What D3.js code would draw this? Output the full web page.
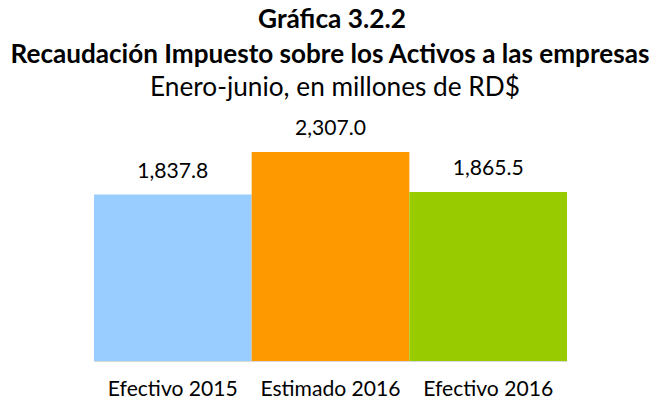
<!DOCTYPE html>
<html>
<head>
<meta charset="utf-8">
<script src="https://cdn.jsdelivr.net/npm/d3@7"></script>
<style>
  body { margin: 0; background: #fff; }
  text { font-family: Lato, "Open Sans", sans-serif; fill: #000; }
</style>
</head>
<body>
<script>
// chart data
const categories = ["Efectivo 2015", "Estimado 2016", "Efectivo 2016"];
const values = [1837.8, 2307.0, 1865.5];
const colors = ["#99ccff", "#ff9900", "#99cc00"];

const W = 656, H = 402;
const margin = {top: 152, right: 89, bottom: 41, left: 94};
const width = W - margin.left - margin.right,
      height = H - margin.top - margin.bottom;

// grow/shrink font so the first text spans about the given width,
// then use that size for the whole selection (reference uses Calibri)
function fitWidth(sel, w) {
    const node = sel.node();
    const fs = parseFloat(d3.select(node).style("font-size"));
    const len = node.getComputedTextLength();
    sel.style("font-size", (fs * w / len).toFixed(2) + "px");
}

const svg = d3.select("body").append("svg")
    .attr("width", W)
    .attr("height", H);

// titles
svg.append("text").attr("x", 332).attr("y", 28)
    .attr("text-anchor", "middle").style("font-weight", "bold").style("font-size", "20px")
    .text("Gráfica 3.2.2")
    .call(fitWidth, 148);
svg.append("text").attr("x", 330).attr("y", 63)
    .attr("text-anchor", "middle").style("font-weight", "bold").style("font-size", "20px")
    .text("Recaudación Impuesto sobre los Activos a las empresas")
    .call(fitWidth, 639);
svg.append("text").attr("x", 335).attr("y", 96)
    .attr("text-anchor", "middle").style("font-size", "20px")
    .text("Enero-junio, en millones de RD$")
    .call(fitWidth, 370);

const g = svg.append("g")
    .attr("transform", "translate(" + margin.left + "," + margin.top + ")");

const x = d3.scaleBand().domain(categories).range([0, width]).padding(0);
const y = d3.scaleLinear().domain([0, d3.max(values)]).range([height, 0]);

const data = categories.map((c, i) => ({cat: c, val: values[i], col: colors[i]}));

g.selectAll("rect.bar").data(data).enter().append("rect")
    .attr("class", "bar")
    .attr("x", d => x(d.cat))
    .attr("y", d => y(d.val))
    .attr("width", x.bandwidth())
    .attr("height", d => height - y(d.val))
    .attr("fill", d => d.col);

// baseline
g.append("line")
    .attr("x1", 0).attr("x2", width)
    .attr("y1", height + 0.5).attr("y2", height + 0.5)
    .attr("stroke", "#d9d9d9").attr("stroke-width", 1);

// value labels
const fmt = d3.format(",.1f");
g.selectAll("text.val").data(data).enter().append("text")
    .attr("class", "val")
    .attr("x", d => x(d.cat) + x.bandwidth() / 2)
    .attr("y", d => y(d.val) - 17)
    .attr("text-anchor", "middle")
    .style("font-size", "20px")
    .text(d => fmt(d.val))
    .call(fitWidth, 71);

// category axis
const xAxis = g.append("g")
    .attr("transform", "translate(0," + height + ")")
    .call(d3.axisBottom(x).tickSize(0).tickPadding(0));
xAxis.select(".domain").remove();
xAxis.selectAll("text")
    .attr("dy", null)
    .attr("y", 35)
    .style("font-size", "20px")
    .style("font-family", "Lato, 'Open Sans', sans-serif")
    .call(fitWidth, 130);
</script>
</body>
</html>
